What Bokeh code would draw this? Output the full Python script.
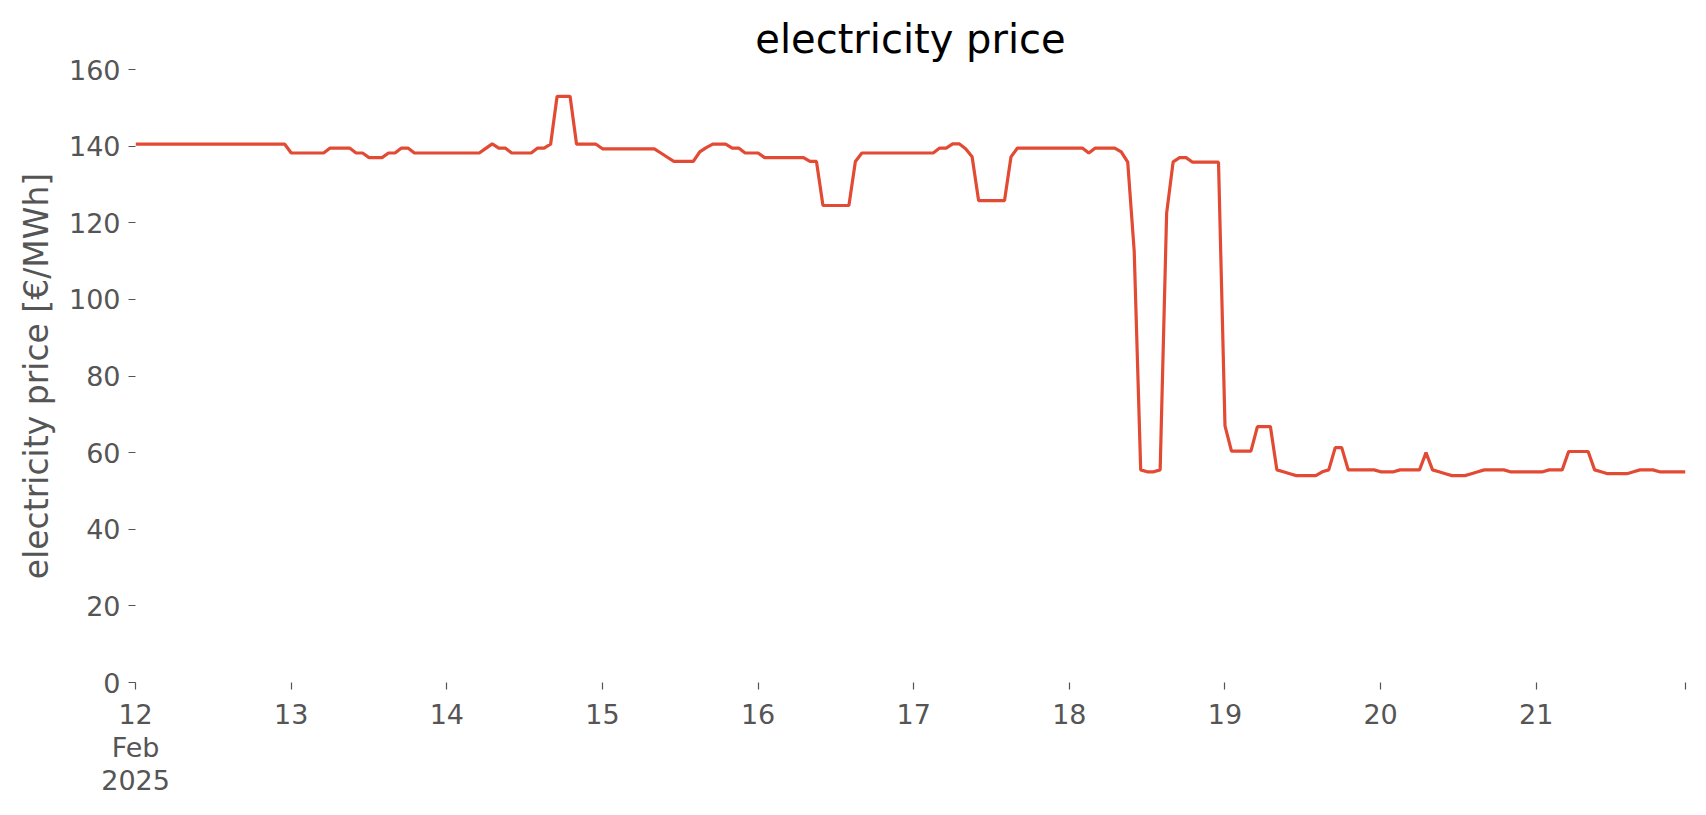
import pandas as pd
from bokeh.plotting import figure
from bokeh.models import Range1d, FixedTicker, CustomJSTickFormatter, ColumnDataSource
from bokeh.embed import file_html
from bokeh.resources import INLINE

# ---- data (hourly electricity price, €/MWh) ----
start_time = "2025-02-12 00:00"
n_hours = 240
day_12 = [140.5] * 24
day_13 = [138.2] * 6 + [139.5] * 4 + [138.2] * 2 + [137.0] * 3 + [138.2] * 2 + [139.5] * 2 + [138.2] * 5
day_14 = [138.2] * 6 + [139.4, 140.6] + [139.5] * 2 + [138.2] * 4 + [139.5] * 2 + [140.5] + [153.0] * 3 + [140.5] * 4
day_15 = [139.3] * 9 + [138.2, 137.1] + [136.0] * 4 + [138.5, 139.6] + [140.5] * 3 + [139.5] * 2 + [138.2] * 2
day_16 = [138.2] + [137.0] * 7 + [136.0] * 2 + [124.5] * 5 + [136.0] + [138.2] * 8
day_17 = [138.2] * 4 + [139.5] * 2 + [140.6] * 2 + [139.3, 137.2] + [125.8] * 5 + [137.2] + [139.5] * 8
day_18 = [139.5] * 3 + [138.2] + [139.5] * 4 + [138.5, 135.8, 112.5, 55.5, 55.0, 55.0, 55.5, 122.5, 135.9] + [137.0] * 2 + [135.8] * 5
day_19 = [67.0] + [60.4] * 4 + [66.8] * 3 + [55.5, 55.0, 54.5] + [54.0] * 4 + [55.0, 55.5] + [61.3] * 2 + [55.5] * 5
day_20 = [55.0] * 3 + [55.5] * 4 + [60.0, 55.5, 55.0, 54.5] + [54.0] * 3 + [54.5, 55.0] + [55.5] * 4 + [55.0] * 4
day_21 = [55.0] * 2 + [55.5] * 3 + [60.3] * 4 + [55.5, 55.0] + [54.5] * 4 + [55.0] + [55.5] * 3 + [55.0] * 5
price = day_12 + day_13 + day_14 + day_15 + day_16 + day_17 + day_18 + day_19 + day_20 + day_21

tick_times = ["2025-02-12", "2025-02-13", "2025-02-14", "2025-02-15", "2025-02-16",
              "2025-02-17", "2025-02-18", "2025-02-19", "2025-02-20", "2025-02-21",
              "2025-02-21 23:00"]
tick_labels = ["12\nFeb\n2025", "13", "14", "15", "16", "17", "18", "19", "20", "21", ""]
y_ticks = [0, 20, 40, 60, 80, 100, 120, 140, 160]

times = pd.date_range(start_time, periods=n_hours, freq="h")
src = ColumnDataSource(dict(t=times, price=price))

tick_ms = [pd.Timestamp(t).value / 1e6 for t in tick_times]

p = figure(width=1696, height=807, x_axis_type="datetime",
           output_backend="svg", toolbar_location=None,
           min_border_left=135, min_border_right=11, min_border_top=69, min_border_bottom=125)
pad = 60000
p.x_range = Range1d(tick_ms[0] - pad, tick_ms[-1] + pad)
p.y_range = Range1d(0, 160)

p.line("t", "price", source=src, line_color="#E24A33", line_width=3.2)

p.title.text = "electricity price"
p.title.align = "center"
p.title.text_font = "DejaVu Sans"
p.title.text_font_size = "40px"
p.title.text_font_style = "normal"
p.title.text_color = "#000000"
p.title.standoff = 15

p.xaxis.ticker = FixedTicker(ticks=tick_ms)
p.xaxis.formatter = CustomJSTickFormatter(args=dict(vals=tick_ms, labels=tick_labels), code="""
    for (let k = 0; k < vals.length; k++) {
        if (Math.abs(vals[k] - tick) < 1000) { return labels[k]; }
    }
    return "";
""")
p.yaxis.ticker = FixedTicker(ticks=y_ticks)
p.yaxis.axis_label = "electricity price [€/MWh]"

for ax in (p.xaxis[0], p.yaxis[0]):
    ax.axis_line_color = None
    ax.major_tick_line_color = "#555555"
    ax.major_tick_line_width = 1.2
    ax.major_tick_out = 7
    ax.major_tick_in = 0
    ax.minor_tick_line_color = None
    ax.major_label_text_color = "#555555"
    ax.major_label_text_font = "DejaVu Sans"
    ax.major_label_text_font_size = "27px"
    ax.major_label_standoff = 8

p.xaxis.major_label_text_line_height = 1.08
p.xaxis.major_label_standoff = 9

p.yaxis.axis_label_text_font = "DejaVu Sans"
p.yaxis.axis_label_text_font_size = "33px"
p.yaxis.axis_label_text_font_style = "normal"
p.yaxis.axis_label_text_color = "#555555"
p.yaxis.axis_label_standoff = 10

p.xgrid.grid_line_color = None
p.ygrid.grid_line_color = None
p.outline_line_color = None
p.background_fill_color = "white"
p.border_fill_color = "white"

open("out.html", "w").write(file_html(p, INLINE))
